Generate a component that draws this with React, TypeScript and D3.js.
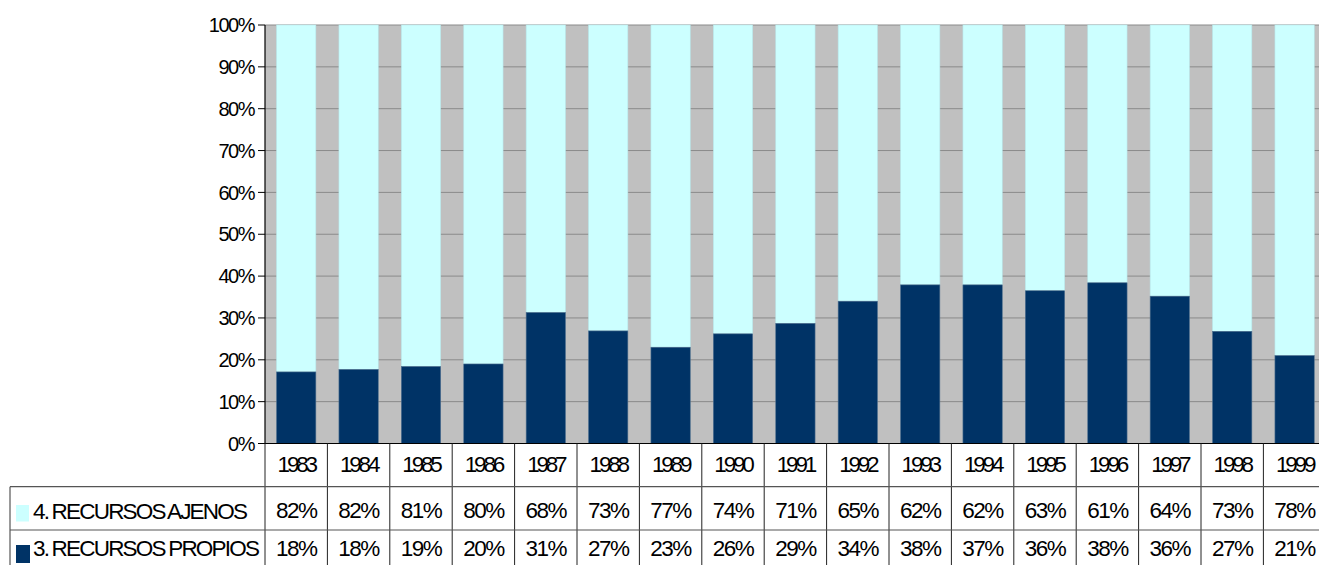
import React from "react";
import * as d3 from "d3";

const years = ["1983","1984","1985","1986","1987","1988","1989","1990","1991","1992","1993","1994","1995","1996","1997","1998","1999"];
// share of "3. RECURSOS PROPIOS" (%)
const propiosShare = [17.1,17.7,18.4,19.0,31.3,26.9,23.0,26.2,28.7,34.0,37.9,37.9,36.5,38.4,35.2,26.8,21.0];
// table labels
const ajenosLabels = ["82%","82%","81%","80%","68%","73%","77%","74%","71%","65%","62%","62%","63%","61%","64%","73%","78%"];
const propiosLabels = ["18%","18%","19%","20%","31%","27%","23%","26%","29%","34%","38%","37%","36%","38%","36%","27%","21%"];
const yTicks = [0,10,20,30,40,50,60,70,80,90,100];
const seriesNames = ["4. RECURSOS AJENOS", "3. RECURSOS PROPIOS"];

const W = 1319, H = 565;
const left = 265, step = 62.4;
const right = left + step * years.length;
const top = 25, bottom = 443.5;
const C_AJ = "#CCFFFF", C_PR = "#003366";
const FONT = "'Liberation Sans', Arial, sans-serif";

export default function App() {
  const x = d3.scaleBand<string>().domain(years).range([left, right]).paddingInner(0.37).paddingOuter(0.185);
  const y = d3.scaleLinear().domain([0, 100]).range([bottom, top]);
  const row1 = 486.7, row2 = 530;
  const bounds = d3.range(years.length + 1).map(i => left + i * step);
  return (
    <svg width={W} height={H} style={{ position: "absolute", left: 0, top: 0, background: "#fff" }} fontFamily={FONT}>
      <rect x={left} y={top} width={right - left} height={bottom - top} fill="#C0C0C0" />
      {yTicks.map(t => (
        <line key={"g" + t} x1={left} x2={right} y1={y(t)} y2={y(t)} stroke="#8a8a8a" strokeWidth={1} />
      ))}
      {years.map((yr, i) => {
        const bx = x(yr)!, bw = x.bandwidth();
        const p = propiosShare[i];
        return (
          <g key={yr}>
            <rect x={bx} y={y(100)} width={bw} height={y(p) - y(100)} fill={C_AJ} stroke="#b8e6ea" strokeWidth={0.6} />
            <rect x={bx} y={y(p)} width={bw} height={y(0) - y(p)} fill={C_PR} stroke="#4d6f8f" strokeWidth={0.6} />
          </g>
        );
      })}
      {/* axes */}
      <line x1={left} x2={left} y1={top} y2={bottom} stroke="#000" strokeWidth={1.2} />
      <line x1={left} x2={right} y1={bottom} y2={bottom} stroke="#000" strokeWidth={1.2} />
      {yTicks.map(t => (
        <g key={"t" + t}>
          <line x1={left - 7} x2={left} y1={y(t)} y2={y(t)} stroke="#000" strokeWidth={1} />
          <text x={254} y={y(t) + 7.2} textAnchor="end" fontSize={20} letterSpacing={-1.5} fill="#000">{t + "%"}</text>
        </g>
      ))}
      {/* data table */}
      {bounds.map((bx, i) => (
        <line key={"v" + i} x1={bx} x2={bx} y1={bottom} y2={H} stroke="#222" strokeWidth={1} />
      ))}
      <line x1={10} x2={right} y1={row1} y2={row1} stroke="#555" strokeWidth={1.2} />
      <line x1={10} x2={right} y1={row2} y2={row2} stroke="#555" strokeWidth={1.2} />
      <line x1={10} x2={10} y1={row1} y2={H} stroke="#555" strokeWidth={1.2} />
      {years.map((yr, i) => {
        const cx = left + (i + 0.5) * step;
        return (
          <g key={"c" + yr}>
            <text x={cx} y={472} textAnchor="middle" fontSize={22.5} letterSpacing={-3.2} fill="#000">{yr}</text>
            <text x={cx} y={517.5} textAnchor="middle" fontSize={22.5} letterSpacing={-1.5} fill="#000">{ajenosLabels[i]}</text>
            <text x={cx} y={555.5} textAnchor="middle" fontSize={22.5} letterSpacing={-1.5} fill="#000">{propiosLabels[i]}</text>
          </g>
        );
      })}
      <rect x={16} y={505} width={13} height={16.5} fill={C_AJ} />
      <rect x={16} y={545} width={14} height={18} fill={C_PR} />
      <text x={33} y={519} fontSize={22.5} letterSpacing={-1.8} wordSpacing={-1} fill="#000">{seriesNames[0]}</text>
      <text x={33} y={556} fontSize={22.5} letterSpacing={-1.8} wordSpacing={-1} fill="#000">{seriesNames[1]}</text>
    </svg>
  );
}
